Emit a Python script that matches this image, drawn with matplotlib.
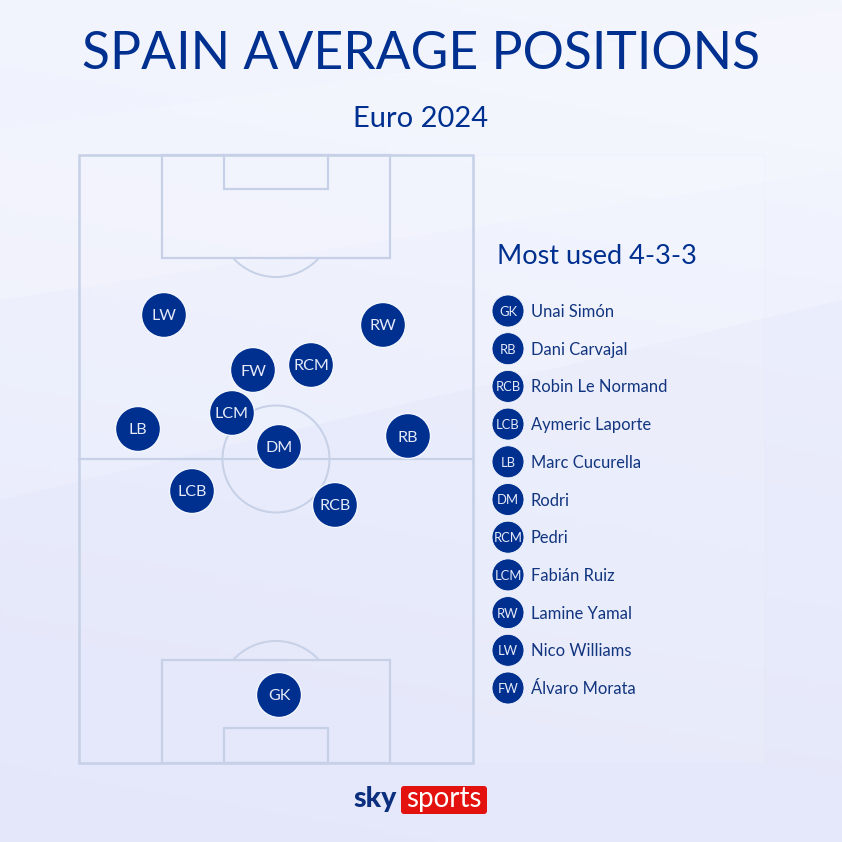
import numpy as np
import matplotlib
matplotlib.use('Agg')
import matplotlib.pyplot as plt
from matplotlib.patches import Rectangle, Circle, Arc, FancyBboxPatch, Polygon

plt.rcParams['font.family'] = ['Lato', 'DejaVu Sans']

# Player markers, positions in pixels
positions = ['GK', 'RB', 'RCB', 'LCB', 'LB', 'DM', 'RCM', 'LCM', 'RW', 'LW', 'FW']
players = ['Unai Simón', 'Dani Carvajal', 'Robin Le Normand', 'Aymeric Laporte',
           'Marc Cucurella', 'Rodri', 'Pedri', 'Fabián Ruiz', 'Lamine Yamal',
           'Nico Williams', 'Álvaro Morata']
pos_x = [279, 408, 335, 192, 138, 279, 311, 232, 383, 164, 253]
pos_y = [695, 436, 505, 491, 429, 447, 365, 413, 325, 315, 370]

navy = '#00308f'
line = '#c6d0e6'

fig = plt.figure(figsize=(8.42, 8.42), dpi=100)
ax = fig.add_axes([0, 0, 1, 1])
ax.set_xlim(0, 842)
ax.set_ylim(842, 0)
ax.axis('off')

# Background, soft diagonal wash
xx, yy = np.meshgrid(np.linspace(0, 1, 200), np.linspace(0, 1, 200))
shade = np.clip(yy * 0.85 + (1 - xx) * 0.15, 0, 1)
top = np.array([0xf4, 0xf6, 0xfe]) / 255
bottom = np.array([0xe6, 0xe9, 0xfb]) / 255
bg = top[None, None, :] * (1 - shade[..., None]) + bottom[None, None, :] * shade[..., None]
ax.imshow(bg, extent=[0, 842, 842, 0], aspect='auto', zorder=0)
ax.add_patch(Polygon([[0, 500], [842, 300], [842, 842], [0, 842]], fc='#dfe3fa', ec='none', alpha=0.25, zorder=0.5))
ax.add_patch(Polygon([[0, 130], [842, 10], [842, 170], [0, 300]], fc='#ffffff', ec='none', alpha=0.2, zorder=0.5))

# Title
ax.text(421, 69, 'SPAIN AVERAGE POSITIONS', color=navy, fontsize=37.2, ha='center', va='baseline')
ax.text(421, 119, 'Euro 2024', color=navy, fontsize=21, ha='center', va='center')

# Pitch
def add_rect(x0, y0, x1, y1, lw=1.6, color=line):
    ax.add_patch(Rectangle((x0, y0), x1 - x0, y1 - y0, fill=False, ec=color, lw=lw, zorder=2))

ax.add_patch(Rectangle((474, 155), 290, 608, fc='#ffffff', ec='#e4e8f6', lw=0.8, alpha=0.1, zorder=1))
add_rect(79, 155, 473, 763, lw=1.8)
ax.plot([79, 473], [459, 459], color=line, lw=1.6, zorder=2)
ax.add_patch(Circle((276, 459), 53.5, fill=False, ec=line, lw=1.4, zorder=2))
add_rect(162, 155, 390, 258)
add_rect(224, 155, 328, 189)
add_rect(162, 660, 390, 763)
add_rect(224, 728, 328, 763)
# Penalty arcs, centred on the penalty spots
ax.add_patch(Arc((276, 219), 116, 116, theta1=42, theta2=138, ec=line, lw=1.4, zorder=2))
ax.add_patch(Arc((276, 699), 116, 116, theta1=222, theta2=318, ec=line, lw=1.4, zorder=2))

# Markers on the pitch
for label, x, y in zip(positions, pos_x, pos_y):
    ax.add_patch(Circle((x, y), 22.5, fc=navy, ec='#f4f6fe', lw=1, zorder=3))
    ax.text(x, y + 1.5, label, color='#e6eaf8', fontsize=11.6, ha='center', va='center', zorder=4)

# Line-up list
ax.text(497, 257, 'Most used 4-3-3', color=navy, fontsize=19.5, ha='left', va='center')
list_y = np.arange(len(players)) * 37.7 + 311
for label, name, y in zip(positions, players, list_y):
    ax.add_patch(Circle((508, y), 16, fc=navy, ec='#f4f6fe', lw=0.6, zorder=3))
    ax.text(508, y + 1, label, color='#e6eaf8', fontsize=9.4, ha='center', va='center', zorder=4)
    ax.text(531, y + 1, name, color='#12357f', fontsize=11.9, ha='left', va='center', zorder=4)

# Logo
ax.text(375.5, 799, 'sky', color='#0b2f7e', fontsize=20.5, fontweight='black', ha='center', va='center', zorder=4)
ax.add_patch(FancyBboxPatch((401, 786), 86, 28, boxstyle='round,pad=0,rounding_size=3', fc='#e3120f', ec='none', zorder=3))
ax.text(444, 799.5, 'sports', color='white', fontsize=20, ha='center', va='center', zorder=4)

fig.savefig('out.png', dpi=100)
